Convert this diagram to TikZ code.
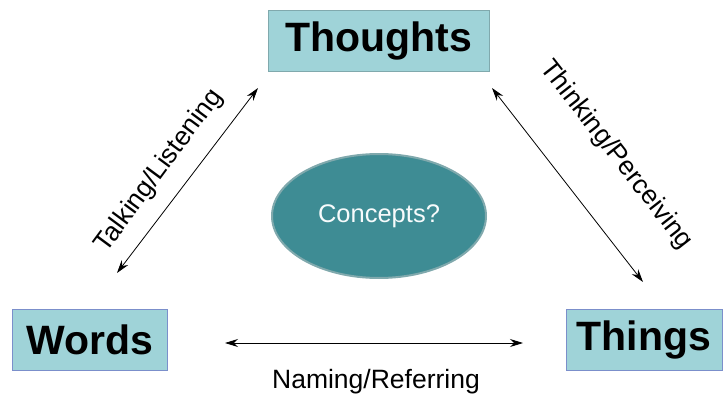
\documentclass[tikz,border=0pt]{standalone}
\usepackage{fontspec}
\setmainfont{Liberation Sans}
\usetikzlibrary{arrows.meta,shapes.geometric}
\definecolor{catTealLight}{HTML}{9FD3D8}
\definecolor{catBlueEdge}{HTML}{7B8FCB}
\definecolor{catTealDark}{HTML}{3E8C94}
\definecolor{catTealEdge}{HTML}{80A9AD}
\colorlet{colBox}{catTealLight}
\colorlet{colConcept}{catTealDark}

\begin{document}
\begin{tikzpicture}[x=1pt, y=-1pt, >={Stealth[length=13pt,width=8pt]}, line width=0.8pt,
    box/.style={draw=catBlueEdge, fill=colBox, minimum height=61pt, inner sep=0pt,
      font=\fontsize{41}{48}\selectfont\bfseries},
    lbl/.style={font=\fontsize{26.5}{30}\selectfont, inner sep=0pt}]
        \useasboundingbox (0,0) rectangle (723,396);

        % Corners
        \node[box, draw=catTealEdge, minimum width=221pt] (thoughts) at (378.5,41) {Thoughts};
        \node[box, minimum width=155pt] (words) at (89.5,339.5) {Words};
        \node[box, minimum width=156pt] (things) at (644,339.5) {Things};

        % Centre
        \node[ellipse, draw=catTealEdge, line width=2pt, fill=colConcept, text=white!92!catTealLight,
          minimum width=214pt, minimum height=124pt, font=\fontsize{25.5}{30}\selectfont] (concepts) at (379,216) {Concepts?};

        % Arrows
        \coordinate (talkA) at (258,88);
        \coordinate (talkB) at (117,273);
        \coordinate (thinkA) at (492,88);
        \coordinate (thinkB) at (643,282);
        \coordinate (nameA) at (225,343);
        \coordinate (nameB) at (523,343);
        \draw[<->] (talkA) -- (talkB);
        \draw[<->] (thinkA) -- (thinkB);
        \draw[<->] (nameA) -- (nameB);

        % Labels
        \node[lbl, rotate=53.5] (talk) at (159,171) {Talking/Listening};
        \node[lbl, rotate=-52] (think) at (616,155) {Thinking/Perceiving};
        \node[lbl, anchor=base] (name) at (376,388) {Naming/Referring};
    \end{tikzpicture}
\end{document}
